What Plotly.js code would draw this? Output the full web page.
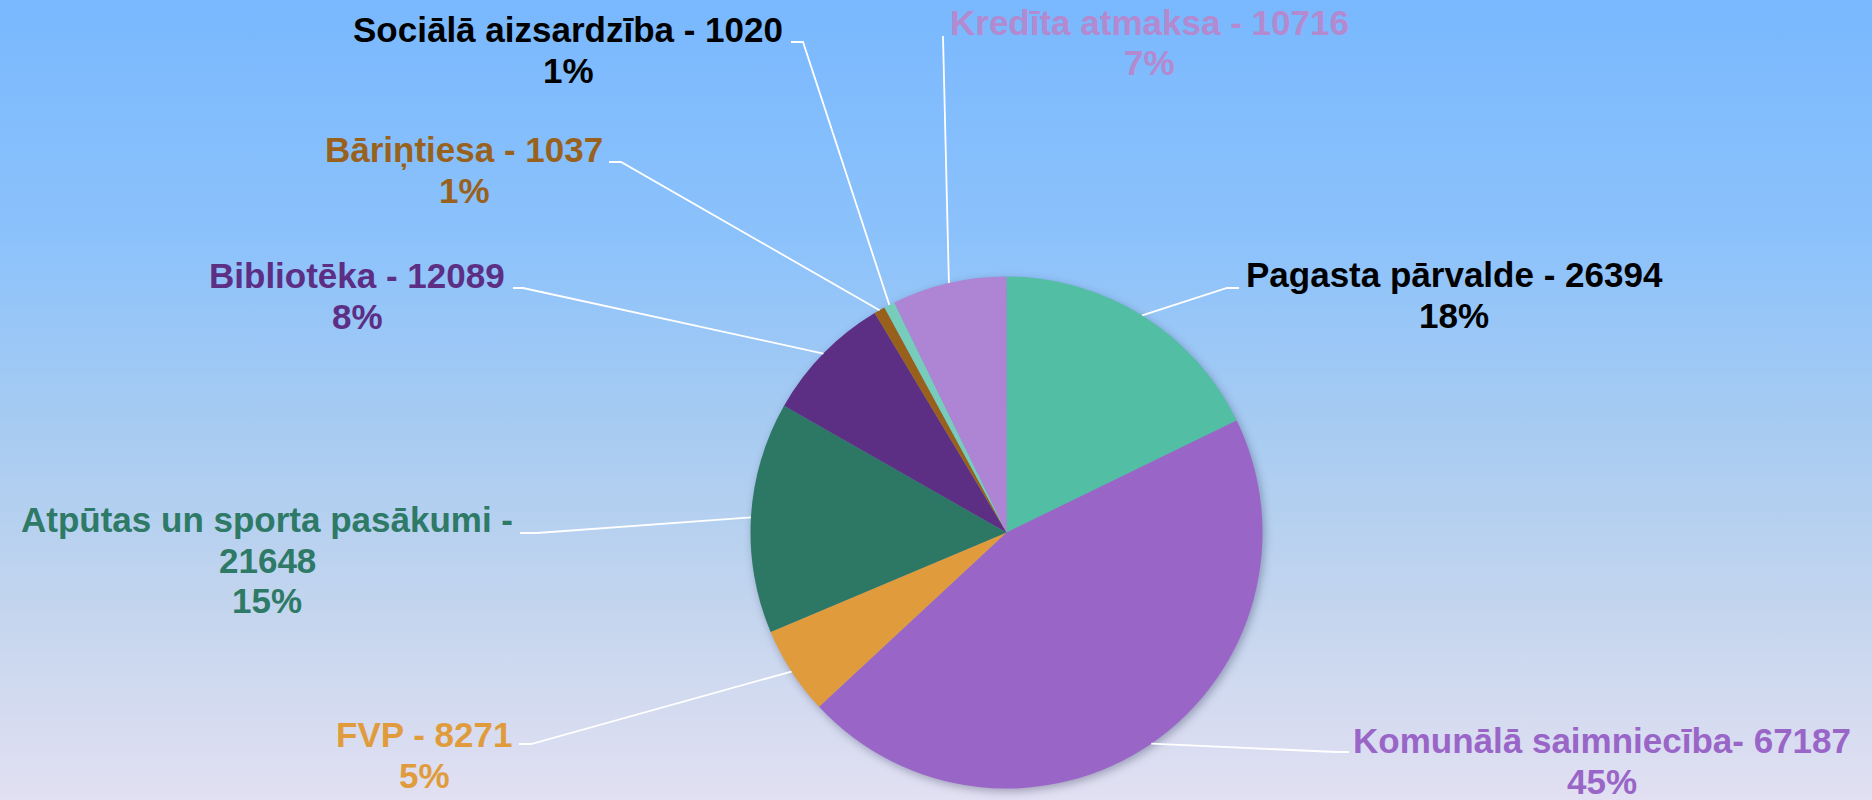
<!DOCTYPE html>
<html>
<head>
<meta charset="utf-8">
<script src="https://cdn.plot.ly/plotly-3.0.1.min.js"></script>
<style>
  html, body { margin: 0; padding: 0; }
  body { width: 1872px; height: 800px; overflow: hidden;
         background: linear-gradient(to bottom, #79b8fe 0%, #8cc2fb 30%, #a9ccf1 55%, #c6d6ee 78%, #e2e0f2 100%); }
  #chart { width: 1872px; height: 800px; }
  .pielayer { filter: drop-shadow(2px 3px 4px rgba(40,40,80,0.35)); }
</style>
</head>
<body>
<div id="chart"></div>
<script>
// ---- data ----
const names = ['Pagasta pārvalde', 'Komunālā saimniecība', 'FVP', 'Atpūtas un sporta pasākumi',
               'Bibliotēka', 'Bāriņtiesa', 'Sociālā aizsardzība', 'Kredīta atmaksa'];
const values = [26394, 67187, 8271, 21648, 12089, 1037, 1020, 10716];
const pctLabels = ['18%', '45%', '5%', '15%', '8%', '1%', '1%', '7%'];
const separators = [' - ', '- ', ' - ', ' -\n', ' - ', ' - ', ' - ', ' - '];

// ---- styles ----
const sliceColors = ['#52bea4', '#9966c8', '#e09c3c', '#2c7864', '#5c2e84', '#98601a', '#78ccbc', '#ad85d4'];
const labelColors = ['#000000', '#9966c8', '#e09c3c', '#2e7a66', '#5c2e84', '#98621e', '#000000', '#b389d0'];

const W = 1872, H = 800;
const PIE = { cx: 1006.5, cy: 532.5, r: 256 };
// label layout: centre x, first baseline, stub start (near text), elbow
const labelLayout = [
  { cx: 1454, base: 287, stub: [1239, 288], elbow: [1227, 288] },
  { cx: 1602, base: 753, stub: [1349, 752], elbow: [1336, 752] },
  { cx: 424,  base: 747, stub: [519, 744],  elbow: [531, 744] },
  { cx: 267,  base: 532, stub: [520, 533],  elbow: [537, 533] },
  { cx: 357,  base: 288, stub: [513, 288],  elbow: [523, 288] },
  { cx: 464,  base: 162, stub: [609, 162],  elbow: [621, 162] },
  { cx: 568,  base: 42,  stub: [791, 42],   elbow: [803, 42] },
  { cx: 1149, base: 35,  stub: [943, 36],   elbow: [943, 36] }
];
const LINE_STEP = 40.5, FONT_SIZE = 35;

const px = x => x / W;
const py = y => 1 - y / H;

const trace = {
  type: 'pie',
  labels: names,
  values: values,
  sort: false,
  direction: 'clockwise',
  rotation: 0,
  textinfo: 'none',
  hoverinfo: 'label+value+percent',
  marker: { colors: sliceColors, line: { width: 0 } },
  domain: { x: [px(PIE.cx - PIE.r), px(PIE.cx + PIE.r)], y: [py(PIE.cy + PIE.r), py(PIE.cy - PIE.r)] },
  showlegend: false
};

const total = values.reduce((a, b) => a + b, 0);
let cum = 0;
const annotations = [];
const shapes = [];
values.forEach((v, i) => {
  const mid = (cum + v / 2) / total * 2 * Math.PI;
  cum += v;
  const ex = PIE.cx + PIE.r * Math.sin(mid);
  const ey = PIE.cy - PIE.r * Math.cos(mid);
  const L = labelLayout[i];
  shapes.push({
    type: 'path', xref: 'paper', yref: 'paper',
    path: `M ${px(L.stub[0])},${py(L.stub[1])} L ${px(L.elbow[0])},${py(L.elbow[1])} L ${px(ex)},${py(ey)}`,
    line: { color: '#ffffff', width: 1.8 }
  });
  const lines = (names[i] + separators[i] + values[i]).split('\n').concat([pctLabels[i]]);
  lines.forEach((t, j) => {
    annotations.push({
      xref: 'paper', yref: 'paper',
      x: px(L.cx), y: py(L.base + j * LINE_STEP - 12.5),
      xanchor: 'center', yanchor: 'middle',
      text: '<b>' + t + '</b>', showarrow: false,
      font: { family: 'Liberation Sans, Arial, sans-serif', size: FONT_SIZE, color: labelColors[i] }
    });
  });
});

const layout = {
  width: W, height: H,
  margin: { l: 0, r: 0, t: 0, b: 0 },
  paper_bgcolor: 'rgba(0,0,0,0)',
  plot_bgcolor: 'rgba(0,0,0,0)',
  showlegend: false,
  annotations: annotations,
  shapes: shapes
};

Plotly.newPlot('chart', [trace], layout, { displayModeBar: false, staticPlot: true });
</script>
</body>
</html>
